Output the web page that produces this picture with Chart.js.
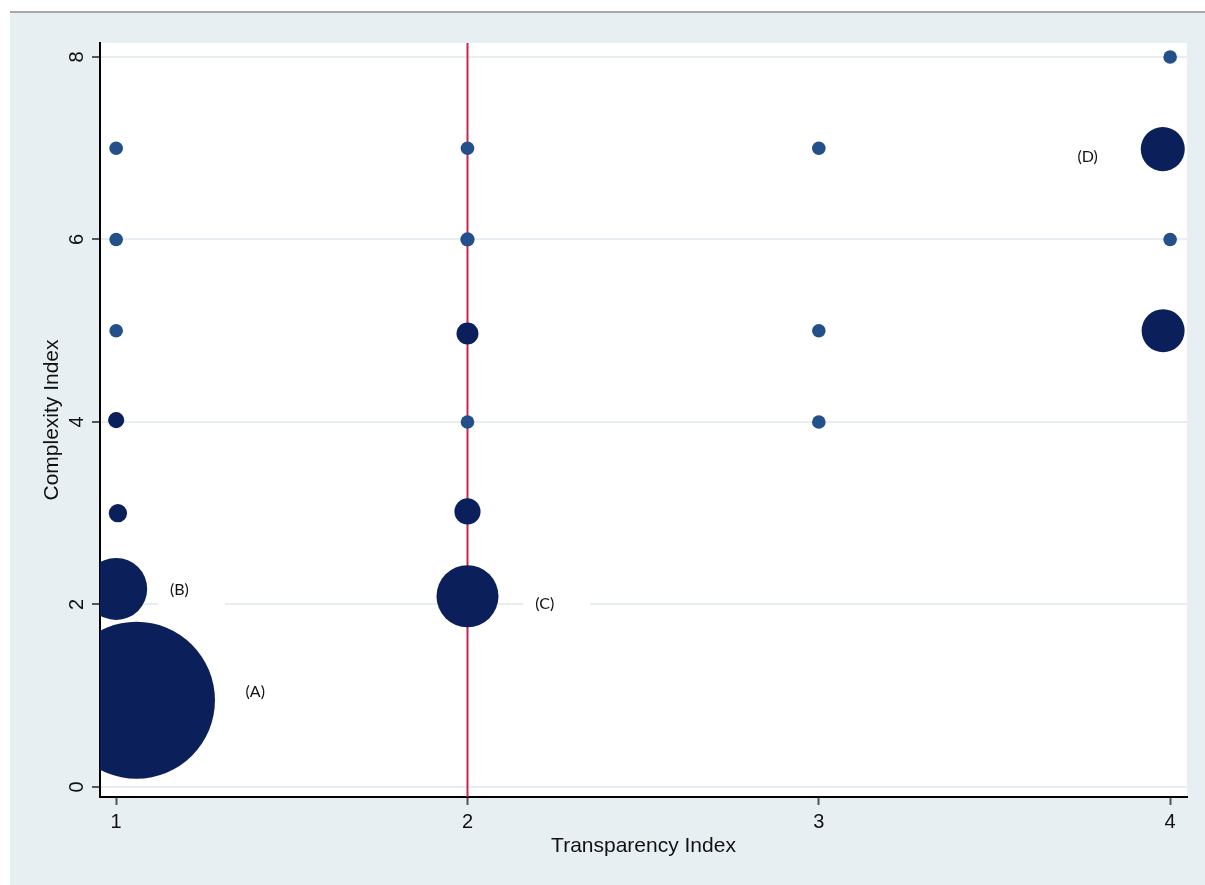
<!DOCTYPE html>
<html>
<head>
<meta charset="utf-8">
<script src="https://cdn.jsdelivr.net/npm/chart.js@4/dist/chart.umd.min.js"></script>
<style>
  html, body { margin: 0; padding: 0; background: #fff; }
  #wrap { width: 1205px; height: 885px; }
</style>
</head>
<body>
<div id="wrap"><canvas id="bubbleChart" width="1205" height="885"></canvas></div>
<script>
// data
const transparency = [1, 1, 1, 1, 1.005, 1, 1.058, 2, 2, 2, 2, 2, 2, 3, 3, 3, 4, 3.979, 4, 3.98];
const complexity = [7, 6, 5, 4.02, 3, 2.17, 0.95, 7, 6, 4.97, 4, 3.02, 2.09, 7, 5, 4, 8, 6.99, 6, 5.0];
const weight = [1, 1, 1, 1.4, 1.8, 20.8, 133, 1, 1.1, 2.6, 1, 3.7, 20.8, 1, 1, 1, 1, 10.5, 1, 10];
const xTicks = [1, 2, 3, 4];
const yTicks = [0, 2, 4, 6, 8];
const markerX = 2;
const labelText = ['(A)', '(B)', '(C)', '(D)'];
const labelX = [1.396, 1.18, 2.22, 3.765];
const labelY = [1.04, 2.16, 2.01, 6.9];

const points = transparency.map((x, i) => ({ x: x, y: complexity[i], r: 6.8 * Math.sqrt(weight[i]) }));
const colors = weight.map(w => w <= 1.2 ? '#23508a' : '#0b1f5b');

function noPad(s) {
    s.paddingLeft = 0; s.paddingRight = 0; s.paddingTop = 0; s.paddingBottom = 0;
}

const pageBg = {
    id: 'pageBg',
    beforeDraw(chart) {
        const c = chart.ctx, a = chart.chartArea;
        c.save();
        c.fillStyle = '#ffffff';
        c.fillRect(0, 0, chart.width, chart.height);
        c.fillStyle = '#e8eff2';
        c.fillRect(10, 13, chart.width - 10, chart.height - 13);
        c.fillStyle = '#a9a9a9';
        c.fillRect(10, 11, chart.width - 10, 2);
        c.fillStyle = '#ffffff';
        c.fillRect(a.left, a.top, a.right - a.left, a.bottom - a.top);
        c.restore();
    },
    beforeDatasetsDraw(chart) {
        const c = chart.ctx, a = chart.chartArea;
        const px = chart.scales.x.getPixelForValue(markerX);
        c.save();
        c.strokeStyle = '#c8264f';
        c.lineWidth = 2;
        c.beginPath();
        c.moveTo(px, a.top);
        c.lineTo(px, a.bottom);
        c.stroke();
        c.restore();
    },
    afterDatasetsDraw(chart) {
        const c = chart.ctx;
        c.save();
        c.font = '16px Lato, "Open Sans", sans-serif';
        c.textBaseline = 'middle';
        labelText.forEach((t, i) => {
            const px = chart.scales.x.getPixelForValue(labelX[i]);
            const py = chart.scales.y.getPixelForValue(labelY[i]);
            const w = c.measureText(t).width;
            c.fillStyle = '#ffffff';
            c.fillRect(px - w / 2 - 12, py - 15, w + 48, 30);
            c.fillStyle = '#111111';
            c.textAlign = 'center';
            c.fillText(t, px, py);
        });
        // y tick labels, turned like the original
        const ys = chart.scales.y;
        c.font = '20px "Liberation Sans", Arial';
        c.fillStyle = '#111111';
        c.textAlign = 'center';
        c.textBaseline = 'middle';
        yTicks.forEach(v => {
            c.save();
            c.translate(ys.right - 23, ys.getPixelForValue(v));
            c.rotate(-Math.PI / 2);
            c.fillText(String(v), 0, 0);
            c.restore();
        });
        c.restore();
    }
};

const config = {
    type: 'bubble',
    data: {
        datasets: [{
            data: points,
            backgroundColor: colors,
            borderWidth: 0,
            hoverBorderWidth: 0,
            clip: 0
        }]
    },
    options: {
        responsive: false,
        animation: false,
        layout: { autoPadding: false, padding: { left: 0, top: 43, right: 18, bottom: 0 } },
        plugins: {
            legend: { display: false },
            tooltip: { enabled: false }
        },
        scales: {
            x: {
                type: 'linear',
                min: 0.954,
                max: 4.048,
                afterBuildTicks: s => { s.ticks = xTicks.map(v => ({ value: v })); },
                afterFit: s => { s.height = 88; noPad(s); },
                border: { color: '#000000', width: 2 },
                grid: { drawOnChartArea: false, drawTicks: true, tickLength: 8, tickColor: '#555555', tickWidth: 2 },
                ticks: { color: '#111111', font: { family: 'Liberation Sans, Arial', size: 20 }, padding: 5, maxRotation: 0 },
                title: { display: true, text: 'Transparency Index', color: '#111111', font: { family: 'Liberation Sans, Arial', size: 21 }, padding: { bottom: 26 } }
            },
            y: {
                type: 'linear',
                min: -0.11,
                max: 8.153,
                afterBuildTicks: s => { s.ticks = yTicks.map(v => ({ value: v })); },
                afterFit: s => { s.width = 100; noPad(s); },
                border: { color: '#000000', width: 2 },
                grid: { color: '#e6eef1', lineWidth: 2, drawTicks: true, tickLength: 8, tickColor: '#555555', tickWidth: 2 },
                ticks: { display: false },
                title: { display: true, text: 'Complexity Index', color: '#111111', font: { family: 'Liberation Sans, Arial', size: 21 }, padding: { top: 40 } }
            }
        }
    },
    plugins: [pageBg]
};

window.onload = function () {
    const ctx = document.getElementById('bubbleChart').getContext('2d');
    new Chart(ctx, config);
};
</script>
</body>
</html>
